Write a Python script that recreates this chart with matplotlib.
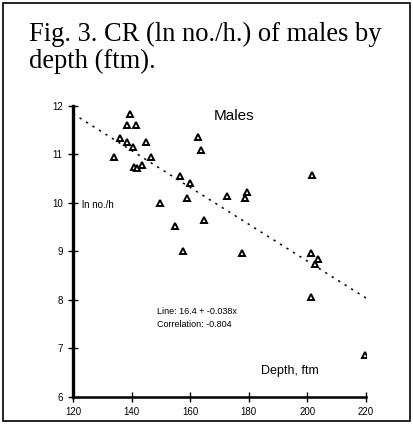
import numpy as np
import matplotlib
matplotlib.use("Agg")
import matplotlib.pyplot as plt
from matplotlib.patches import Rectangle

# CR (ln no./h) of males by depth (ftm)
depth = [139.5, 138.5, 141.5, 144.8, 133.8, 140.9, 141.7, 143.6, 136.0, 138.5,
         140.5, 146.5, 149.6, 162.8, 163.7, 156.5, 159.9, 158.8, 172.7, 179.3,
         178.7, 154.8, 164.8, 157.6, 177.6, 201.7, 201.4, 203.5, 202.5, 201.4,
         219.7]
cr = [11.84, 11.61, 11.61, 11.25, 10.95, 10.75, 10.72, 10.78, 11.35, 11.25,
      11.15, 10.95, 9.99, 11.37, 11.09, 10.56, 10.41, 10.10, 10.15, 10.23,
      10.10, 9.53, 9.64, 9.00, 8.96, 10.58, 8.96, 8.85, 8.75, 8.07,
      6.87]

intercept = 16.4
slope = -0.038
correlation = -0.804

x_ticks = [120, 140, 160, 180, 200, 220]
y_ticks = [6, 7, 8, 9, 10, 11, 12]

fig = plt.figure(figsize=(4.13, 4.24), dpi=100)

# rough outer frame of the scanned figure
fig.patches.append(Rectangle((0.008, 0.008), 0.984, 0.984, transform=fig.transFigure,
                             fill=False, edgecolor="black", linewidth=1.2))

fig.text(0.07, 0.903, "Fig. 3. CR (ln no./h.) of males by", family="Liberation Serif",
         fontsize=19.1, va="baseline")
fig.text(0.07, 0.840, "depth (ftm).", family="Liberation Serif",
         fontsize=19.1, va="baseline")

ax = fig.add_axes([0.177, 0.064, 0.709, 0.686])
ax.set_xlim(120, 220)
ax.set_ylim(6, 12)

xs = np.linspace(120, 220, 50)
ax.plot(xs, intercept + slope * xs, color="black", linewidth=1.1,
        linestyle=(0, (1.5, 3.5)))
ax.plot(depth, cr, linestyle="none", marker="^", markersize=4.6,
        markerfacecolor="white", markeredgecolor="black", markeredgewidth=1.4)

for side in ("top", "right"):
    ax.spines[side].set_visible(False)
ax.spines["left"].set_linewidth(2.4)
ax.spines["bottom"].set_linewidth(1.8)

ax.set_xticks(x_ticks)
ax.set_yticks(y_ticks)
ax.tick_params(direction="inout", length=7, width=1, labelsize=7, pad=4)
for lab in ax.get_xticklabels() + ax.get_yticklabels():
    lab.set_family("Liberation Sans")

ax.text(0.48, 0.965, "Males", transform=ax.transAxes, fontsize=11,
        family="Liberation Sans", va="center")
ax.text(0.03, 0.66, "ln no./h", transform=ax.transAxes, fontsize=7,
        family="Liberation Sans", va="center")
ax.text(0.285, 0.295, f"Line: {intercept} + {slope}x", transform=ax.transAxes,
        fontsize=6.5, family="Liberation Sans", va="center")
ax.text(0.285, 0.25, f"Correlation: {correlation}", transform=ax.transAxes,
        fontsize=6.5, family="Liberation Sans", va="center")
ax.text(0.64, 0.09, "Depth, ftm", transform=ax.transAxes, fontsize=9,
        family="Liberation Sans", va="center")

fig.savefig("out.png", dpi=100)
